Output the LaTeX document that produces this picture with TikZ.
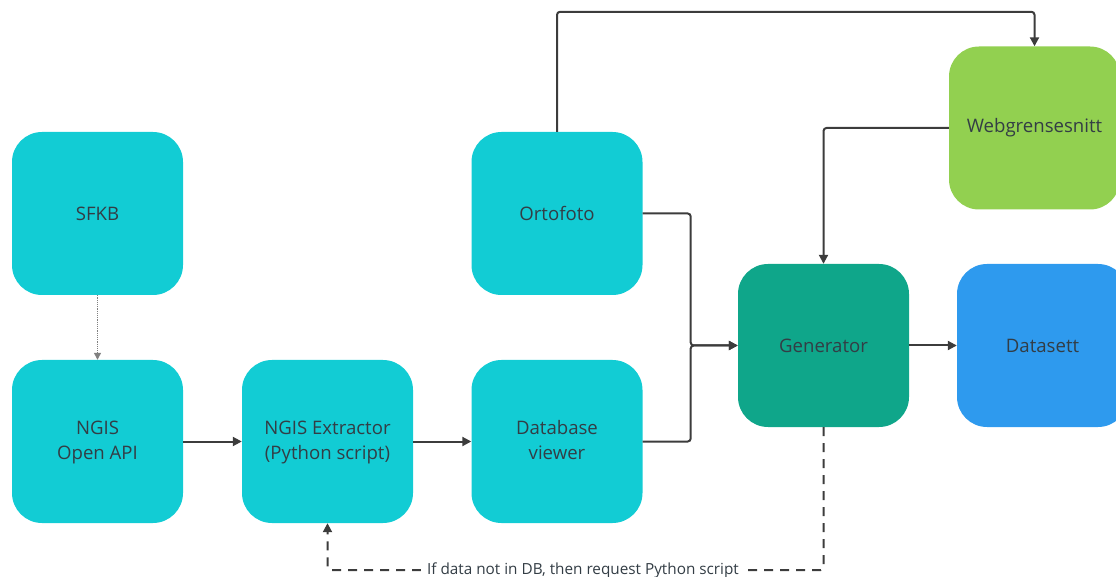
\documentclass[tikz,border=0pt]{standalone}
\usepackage{fontspec}
\setmainfont{Open Sans}
\usetikzlibrary{arrows.meta}
\usetikzlibrary{positioning}
\usetikzlibrary{calc}
\definecolor{colorBox}{HTML}{12CCD4}
\definecolor{colorGen}{HTML}{0FA68A}
\definecolor{colorWeb}{HTML}{92D050}
\definecolor{colorData}{HTML}{2E9AEE}
\definecolor{colorLine}{HTML}{3C3C3C}
\definecolor{colorText}{HTML}{333D45}
\tikzset{
   every path/.style={>={Triangle[length=9pt,width=9pt]}},
   block/.style={rectangle,rounded corners=30pt,minimum width=171pt,minimum height=163pt,
     align=center,text=colorText,font=\fontsize{18.6}{25}\selectfont,fill=colorBox},
   flow/.style={->,color=colorLine,line width=2pt,rounded corners=3pt},
   feed/.style={->,color=gray,densely dotted,line width=1.2pt,>={Triangle[length=7pt,width=7pt]}},
   req/.style={->,color=colorLine,dashed,dash pattern=on 9pt off 7pt,line width=2pt,rounded corners=3pt},
   reqlabel/.style={fill=white,text=colorText,inner xsep=6pt,font=\fontsize{15.3}{18}\selectfont},
}
\begin{document}
\begin{tikzpicture}[x=1pt,y=1pt]
  \useasboundingbox (0,0) rectangle (1116,576);

  \node[block] (sfkb)  at (97.5, 362.5)  {SFKB};
  \node[block] (api)   at (97.5, 134.5)  {\strut NGIS\\Open API\strut};
  \node[block] (extr)  at (327.5, 134.5) {\strut NGIS Extractor\\(Python script)\strut};
  \node[block] (dbv)   at (557, 134.5)   {\strut Database\\viewer\strut};
  \node[block] (orto)  at (557, 362.5)   {Ortofoto};
  \node[block, fill=colorGen]  (gen)  at (823.5, 230.5)  {Generator};
  \node[block, fill=colorData] (data) at (1042.5, 230.5) {Datasett};
  \node[block, fill=colorWeb]  (web)  at (1034.5, 448)   {Webgrensesnitt};

  \draw[feed] (sfkb) -- (api);
  \draw[flow] (api)  -- (extr);
  \draw[flow] (extr) -- (dbv);

  \draw[flow] (orto.east) -- ++(48,0) |- (gen.west);
  \draw[flow] (dbv.east)  -- ++(48,0) |- (gen.west);
  \draw[flow] (gen) -- (data);

  \draw[flow] (orto.north) -- ++(0,120) -| (web.north);
  \draw[flow] (web.west) -| (gen.north);

  \coordinate (reqbot) at ($(gen.south)+(0,-143)$);
  \draw[req] (gen.south) -- (reqbot) -| (extr.south);
  \node[reqlabel] (reqtext) at (583, 6) {If data not in DB, then request Python script};
\end{tikzpicture}
\end{document}
